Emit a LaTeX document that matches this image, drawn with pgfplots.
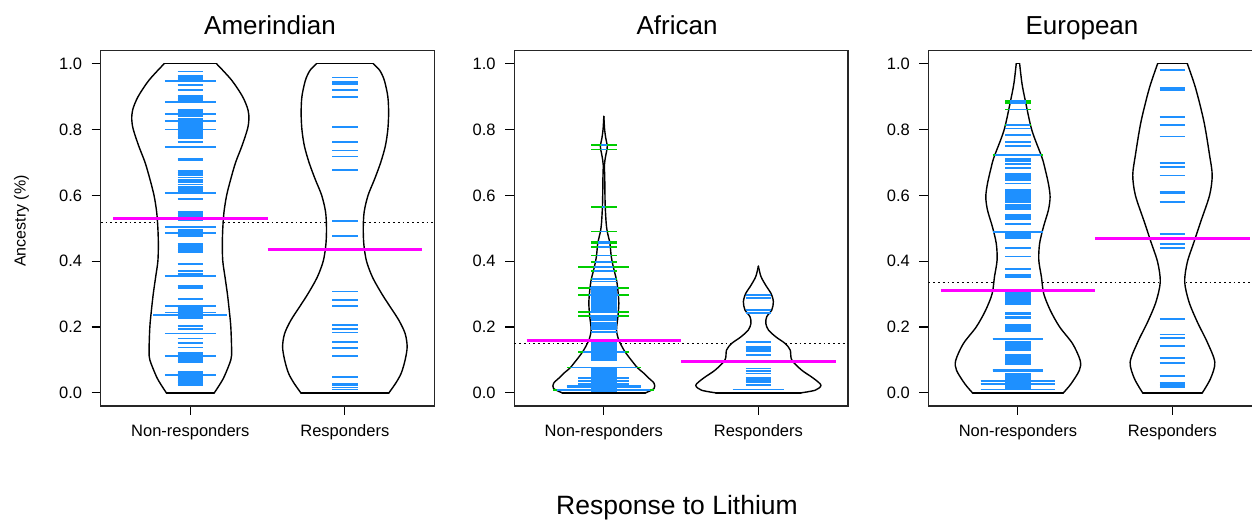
\documentclass[border=0pt]{standalone}
\usepackage{fontspec}
\setmainfont{Liberation Sans}
\usepackage{pgfplots}
\usepackage{pgfplotstable}
\pgfplotsset{compat=1.18}
\definecolor{beanblue}{RGB}{30,144,255}
\definecolor{beangreen}{RGB}{0,205,0}
\definecolor{meanmag}{RGB}{255,0,255}

% ---------- bean outlines: y, half width ----------
\pgfplotstableread{
y w
0 0.155
0.025 0.19
0.05 0.22
0.10 0.262
0.13 0.267
0.20 0.262
0.25 0.252
0.30 0.24
0.35 0.225
0.40 0.21
0.45 0.207
0.50 0.21
0.55 0.218
0.60 0.235
0.65 0.262
0.70 0.293
0.75 0.334
0.80 0.369
0.83 0.379
0.86 0.373
0.90 0.338
0.95 0.267
1.00 0.169
}\oAmNR
\pgfplotstableread{
y w
0 0.285
0.03 0.33
0.06 0.365
0.10 0.39
0.14 0.403
0.18 0.39
0.22 0.35
0.26 0.295
0.30 0.24
0.35 0.18
0.40 0.14
0.45 0.123
0.50 0.119
0.55 0.125
0.60 0.15
0.65 0.193
0.70 0.232
0.75 0.262
0.80 0.278
0.85 0.283
0.90 0.278
0.95 0.255
0.98 0.225
1.00 0.183
}\oAmR
\pgfplotstableread{
y w
0 0.27
0.013 0.325
0.029 0.325
0.045 0.29
0.059 0.26
0.075 0.22
0.089 0.195
0.11 0.16
0.13 0.13
0.16 0.097
0.191 0.082
0.231 0.091
0.272 0.097
0.312 0.091
0.343 0.082
0.383 0.061
0.414 0.048
0.455 0.039
0.49 0.022
0.516 0.015
0.566 0.009
0.608 0.007
0.65 0.006
0.693 0.004
0.72 0.012
0.748 0.022
0.775 0.012
0.80 0.005
0.84 0
}\oAfNR
\pgfplotstableread{
y w
0 0.276
0.008 0.368
0.023 0.405
0.044 0.357
0.069 0.28
0.10 0.216
0.13 0.206
0.15 0.173
0.17 0.113
0.191 0.065
0.211 0.048
0.231 0.054
0.252 0.087
0.277 0.097
0.302 0.082
0.322 0.054
0.353 0.017
0.385 0
}\oAfR
\pgfplotstableread{
y w
0 0.294
0.027 0.343
0.068 0.397
0.098 0.403
0.149 0.354
0.20 0.27
0.25 0.21
0.301 0.167
0.352 0.152
0.403 0.135
0.453 0.14
0.504 0.165
0.555 0.197
0.595 0.208
0.636 0.197
0.687 0.172
0.717 0.154
0.798 0.09
0.889 0.047
0.94 0.026
1.00 0.011
}\oEuNR
\pgfplotstableread{
y w
0 0.193
0.043 0.246
0.093 0.274
0.154 0.225
0.215 0.161
0.276 0.107
0.337 0.079
0.397 0.096
0.458 0.139
0.519 0.182
0.60 0.24
0.661 0.257
0.722 0.24
0.823 0.204
0.925 0.15
1.00 0.096
}\oEuR

% ---------- bean lines: value, half length (L), part inside the bean (B) ----------
\pgfplotstableread{
y L
0.976 0.083
0.962 0.083
0.958 0.083
0.954 0.083
0.950 0.083
0.946 0.083
0.948 0.164
0.935 0.083
0.921 0.083
0.902 0.083
0.898 0.083
0.894 0.083
0.890 0.083
0.886 0.083
0.882 0.083
0.884 0.164
0.861 0.083
0.857 0.083
0.853 0.083
0.849 0.083
0.845 0.083
0.842 0.083
0.847 0.164
0.826 0.164
0.831 0.083
0.827 0.083
0.823 0.083
0.819 0.083
0.815 0.083
0.811 0.083
0.807 0.083
0.803 0.083
0.799 0.083
0.795 0.083
0.791 0.083
0.787 0.083
0.783 0.083
0.779 0.083
0.775 0.083
0.800 0.164
0.761 0.083
0.746 0.164
0.712 0.083
0.708 0.083
0.675 0.083
0.668 0.083
0.661 0.083
0.654 0.083
0.647 0.083
0.640 0.083
0.633 0.083
0.626 0.083
0.619 0.083
0.612 0.083
0.608 0.164
0.588 0.083
0.549 0.083
0.543 0.083
0.537 0.083
0.525 0.083
0.505 0.164
0.495 0.083
0.490 0.083
0.485 0.083
0.480 0.083
0.475 0.083
0.485 0.164
0.451 0.083
0.445 0.083
0.440 0.083
0.435 0.083
0.429 0.083
0.391 0.083
0.371 0.083
0.362 0.083
0.355 0.164
0.325 0.083
0.318 0.083
0.285 0.083
0.264 0.164
0.258 0.083
0.252 0.083
0.246 0.083
0.240 0.083
0.234 0.083
0.228 0.083
0.244 0.164
0.236 0.24
0.204 0.083
0.195 0.083
0.180 0.164
0.165 0.083
0.152 0.083
0.138 0.083
0.121 0.083
0.117 0.083
0.113 0.083
0.109 0.083
0.105 0.083
0.101 0.083
0.097 0.083
0.093 0.083
0.111 0.164
0.065 0.083
0.061 0.083
0.057 0.083
0.053 0.083
0.049 0.083
0.045 0.083
0.041 0.083
0.037 0.083
0.033 0.083
0.029 0.083
0.025 0.083
0.055 0.164
}\lAmNR
\pgfplotstableread{
y L
0.958 0.083
0.944 0.083
0.938 0.083
0.921 0.083
0.899 0.083
0.808 0.083
0.762 0.083
0.736 0.083
0.718 0.083
0.677 0.083
0.523 0.083
0.477 0.083
0.308 0.083
0.281 0.083
0.265 0.083
0.205 0.083
0.195 0.083
0.183 0.083
0.155 0.083
0.136 0.083
0.113 0.083
0.049 0.083
0.027 0.083
0.022 0.083
0.016 0.083
0.010 0.083
}\lAmR
\pgfplotstableread{
y L B
0.752 0.083 0.02
0.739 0.083 0.02
0.564 0.083 0.009
0.490 0.083 0.022
0.459 0.083 0.037
0.455 0.083 0.038
0.444 0.083 0.040
0.417 0.083 0.047
0.397 0.083 0.055
0.383 0.164 0.061
0.371 0.083 0.066
0.347 0.083 0.078
0.338 0.083 0.083
0.321 0.083 0.083
0.316 0.083 0.083
0.312 0.083 0.083
0.307 0.083 0.083
0.303 0.083 0.083
0.298 0.083 0.083
0.294 0.083 0.083
0.289 0.083 0.083
0.285 0.083 0.083
0.280 0.083 0.083
0.276 0.083 0.083
0.271 0.083 0.083
0.267 0.083 0.083
0.262 0.083 0.083
0.258 0.083 0.083
0.253 0.083 0.083
0.249 0.083 0.083
0.244 0.083 0.083
0.318 0.164 0.09
0.296 0.164 0.095
0.245 0.164 0.09
0.234 0.164 0.09
0.228 0.083 0.083
0.222 0.083 0.083
0.211 0.083 0.083
0.205 0.083 0.083
0.199 0.083 0.083
0.193 0.083 0.082
0.186 0.083 0.082
0.160 0.083 0.083
0.155 0.083 0.083
0.150 0.083 0.083
0.145 0.083 0.083
0.140 0.083 0.083
0.135 0.083 0.083
0.130 0.083 0.083
0.125 0.083 0.083
0.120 0.083 0.083
0.115 0.083 0.083
0.110 0.083 0.083
0.105 0.083 0.083
0.100 0.083 0.083
0.125 0.164 0.135
0.077 0.24 0.215
0.074 0.083 0.083
0.069 0.083 0.083
0.065 0.083 0.083
0.060 0.083 0.083
0.056 0.083 0.083
0.051 0.083 0.083
0.047 0.083 0.083
0.042 0.083 0.083
0.038 0.083 0.083
0.033 0.083 0.083
0.029 0.083 0.083
0.045 0.164 0.164
0.035 0.164 0.164
0.028 0.164 0.164
0.022 0.24 0.24
0.018 0.24 0.24
0.025 0.083 0.083
0.020 0.083 0.083
0.015 0.083 0.083
0.010 0.083 0.083
0.005 0.083 0.083
0.008 0.327 0.30
}\lAfNR
\pgfplotstableread{
y L
0.297 0.083
0.287 0.083
0.252 0.083
0.242 0.083
0.155 0.083
0.140 0.083
0.136 0.083
0.132 0.083
0.128 0.083
0.115 0.083
0.096 0.083
0.074 0.083
0.067 0.083
0.059 0.083
0.044 0.083
0.040 0.083
0.036 0.083
0.033 0.083
0.023 0.083
0.010 0.166
}\lAfR
\pgfplotstableread{
y L B
0.886 0.083 0.05
0.881 0.083 0.052
0.861 0.083 0.057
0.813 0.083 0.078
0.803 0.083 0.083
0.783 0.083 0.083
0.763 0.083 0.083
0.750 0.083 0.083
0.722 0.164 0.15
0.710 0.083 0.083
0.704 0.083 0.083
0.694 0.083 0.083
0.682 0.083 0.083
0.666 0.083 0.083
0.661 0.083 0.083
0.656 0.083 0.083
0.651 0.083 0.083
0.646 0.083 0.083
0.636 0.083 0.083
0.616 0.083 0.083
0.611 0.083 0.083
0.606 0.083 0.083
0.601 0.083 0.083
0.596 0.083 0.083
0.590 0.083 0.083
0.585 0.083 0.083
0.580 0.083 0.083
0.570 0.083 0.083
0.564 0.083 0.083
0.558 0.083 0.083
0.540 0.083 0.083
0.533 0.083 0.083
0.527 0.083 0.083
0.514 0.083 0.083
0.489 0.164 0.16
0.484 0.083 0.083
0.479 0.083 0.083
0.474 0.083 0.083
0.469 0.083 0.083
0.440 0.083 0.083
0.414 0.083 0.083
0.375 0.083 0.083
0.357 0.083 0.083
0.352 0.083 0.083
0.311 0.083 0.083
0.306 0.083 0.083
0.301 0.083 0.083
0.296 0.083 0.083
0.291 0.083 0.083
0.286 0.083 0.083
0.281 0.083 0.083
0.276 0.083 0.083
0.271 0.083 0.083
0.243 0.083 0.083
0.238 0.083 0.083
0.232 0.083 0.083
0.227 0.083 0.083
0.207 0.083 0.083
0.200 0.083 0.083
0.194 0.083 0.083
0.187 0.083 0.083
0.164 0.164 0.164
0.154 0.083 0.083
0.149 0.083 0.083
0.144 0.083 0.083
0.139 0.083 0.083
0.134 0.083 0.083
0.129 0.083 0.083
0.116 0.083 0.083
0.111 0.083 0.083
0.106 0.083 0.083
0.101 0.083 0.083
0.097 0.083 0.083
0.092 0.083 0.083
0.088 0.083 0.083
0.071 0.164 0.164
0.067 0.164 0.164
0.058 0.083 0.083
0.054 0.083 0.083
0.050 0.083 0.083
0.046 0.083 0.083
0.042 0.083 0.083
0.038 0.083 0.083
0.034 0.083 0.083
0.030 0.083 0.083
0.026 0.083 0.083
0.022 0.083 0.083
0.018 0.083 0.083
0.014 0.083 0.083
0.035 0.242 0.242
0.027 0.242 0.242
0.010 0.242 0.242
}\lEuNR
\pgfplotstableread{
y L
0.980 0.083
0.925 0.083
0.919 0.083
0.838 0.083
0.813 0.083
0.779 0.083
0.699 0.083
0.685 0.083
0.660 0.083
0.610 0.083
0.606 0.083
0.579 0.083
0.482 0.083
0.452 0.083
0.440 0.083
0.224 0.083
0.177 0.083
0.166 0.083
0.142 0.083
0.105 0.083
0.091 0.083
0.051 0.083
0.030 0.083
0.025 0.083
0.020 0.083
0.016 0.083
}\lEuR

\pgfplotsset{
  beanaxis/.style={
    scale only axis, width=333.8pt, height=355.5pt, anchor=south west,
    xmin=0.42, xmax=2.58, ymin=-0.04, ymax=1.04,
    xtick={1,2}, xticklabels={Non-responders,Responders},
    ytick={0,0.2,0.4,0.6,0.8,1.0}, yticklabels={0.0,0.2,0.4,0.6,0.8,1.0},
    tick pos=left, tick align=outside, major tick length=9pt,
    axis line style={line width=1.3pt, black!85},
    every tick/.style={line width=1.1pt, black},
    ticklabel style={font=\fontsize{16.5}{18}\selectfont},
    yticklabel style={xshift=-6pt},
    xticklabel style={yshift=-6pt},
  },
  outline/.style={black, line width=1.4pt, smooth, tension=0.5, line cap=round, line join=round},
  flatline/.style={black, line width=1.4pt, line cap=round},
  dotline/.style={black, line width=1.3pt, dash pattern=on 1.8pt off 3pt},
  meanline/.style={meanmag, line width=3pt},
  bl/.style={#1, line width=1.8pt, mark=none},
}

\begin{document}
\begin{tikzpicture}
\path[use as bounding box, clip] (0pt,0pt) rectangle (1252pt,519pt);

% ===== Amerindian =====
\begin{axis}[beanaxis, at={(100.7pt,113pt)}]
\addplot[dotline] coordinates {(0.42,0.517) (0.785,0.517)};
\addplot[dotline] coordinates {(1.215,0.517) (1.875,0.517)};
\addplot[dotline] coordinates {(2.125,0.517) (2.58,0.517)};
\addplot[outline] table[x expr=1+\thisrow{w}, y=y] {\oAmNR};
\addplot[outline] table[x expr=1-\thisrow{w}, y=y] {\oAmNR};
\addplot[flatline] coordinates {(0.845,0) (1.155,0)};
\addplot[flatline] coordinates {(0.831,1) (1.169,1)};
\addplot[outline] table[x expr=2+\thisrow{w}, y=y] {\oAmR};
\addplot[outline] table[x expr=2-\thisrow{w}, y=y] {\oAmR};
\addplot[flatline] coordinates {(1.715,0) (2.285,0)};
\addplot[flatline] coordinates {(1.817,1) (2.183,1)};
\addplot[bl=beanblue, quiver={u=2*\thisrow{L}, v=0}] table[x expr=1-\thisrow{L}, y=y] {\lAmNR};
\addplot[bl=beanblue, quiver={u=2*\thisrow{L}, v=0}] table[x expr=2-\thisrow{L}, y=y] {\lAmR};
\addplot[meanline] coordinates {(0.5,0.530) (1.5,0.530)};
\addplot[meanline] coordinates {(1.5,0.436) (2.5,0.436)};
\end{axis}

% ===== African =====
\begin{axis}[beanaxis, at={(514.2pt,113pt)}]
\addplot[dotline] coordinates {(0.42,0.149) (0.895,0.149)};
\addplot[dotline] coordinates {(1.105,0.149) (1.827,0.149)};
\addplot[dotline] coordinates {(2.173,0.149) (2.58,0.149)};
\addplot[outline] table[x expr=1+\thisrow{w}, y=y] {\oAfNR};
\addplot[outline] table[x expr=1-\thisrow{w}, y=y] {\oAfNR};
\addplot[flatline] coordinates {(0.73,0) (1.27,0)};
\addplot[outline] table[x expr=2+\thisrow{w}, y=y] {\oAfR};
\addplot[outline] table[x expr=2-\thisrow{w}, y=y] {\oAfR};
\addplot[flatline] coordinates {(1.724,0) (2.276,0)};
\addplot[bl=beangreen, quiver={u=2*\thisrow{L}, v=0}] table[x expr=1-\thisrow{L}, y=y] {\lAfNR};
\addplot[bl=beanblue, quiver={u=2*\thisrow{B}, v=0}] table[x expr=1-\thisrow{B}, y=y] {\lAfNR};
\addplot[bl=beanblue, quiver={u=2*\thisrow{L}, v=0}] table[x expr=2-\thisrow{L}, y=y] {\lAfR};
\addplot[meanline] coordinates {(0.5,0.159) (1.5,0.159)};
\addplot[meanline] coordinates {(1.5,0.094) (2.5,0.094)};
\end{axis}

% ===== European =====
\begin{axis}[beanaxis, at={(928.3pt,113pt)}]
\addplot[dotline] coordinates {(0.42,0.335) (0.84,0.335)};
\addplot[dotline] coordinates {(1.16,0.335) (1.915,0.335)};
\addplot[dotline] coordinates {(2.085,0.335) (2.58,0.335)};
\addplot[outline] table[x expr=1+\thisrow{w}, y=y] {\oEuNR};
\addplot[outline] table[x expr=1-\thisrow{w}, y=y] {\oEuNR};
\addplot[flatline] coordinates {(0.706,0) (1.294,0)};
\addplot[flatline] coordinates {(0.989,1) (1.011,1)};
\addplot[outline] table[x expr=2+\thisrow{w}, y=y] {\oEuR};
\addplot[outline] table[x expr=2-\thisrow{w}, y=y] {\oEuR};
\addplot[flatline] coordinates {(1.807,0) (2.193,0)};
\addplot[flatline] coordinates {(1.904,1) (2.096,1)};
\addplot[bl=beangreen, quiver={u=2*\thisrow{L}, v=0}] table[x expr=1-\thisrow{L}, y=y] {\lEuNR};
\addplot[bl=beanblue, quiver={u=2*\thisrow{B}, v=0}] table[x expr=1-\thisrow{B}, y=y] {\lEuNR};
\addplot[bl=beanblue, quiver={u=2*\thisrow{L}, v=0}] table[x expr=2-\thisrow{L}, y=y] {\lEuR};
\addplot[meanline] coordinates {(0.5,0.310) (1.5,0.310)};
\addplot[meanline] coordinates {(1.5,0.469) (2.5,0.469)};
\end{axis}

% titles and labels
\node[anchor=base, font=\fontsize{26}{30}\selectfont] at (270pt,484pt) {Amerindian};
\node[anchor=base, font=\fontsize{26}{30}\selectfont] at (677pt,484pt) {African};
\node[anchor=base, font=\fontsize{26}{30}\selectfont] at (1082pt,484pt) {European};
\node[anchor=base, font=\fontsize{26.5}{30}\selectfont] at (677pt,5pt) {Response to Lithium};
\node[rotate=90, font=\fontsize{16}{18}\selectfont] at (21.5pt,298pt) {Ancestry (\%)};
\end{tikzpicture}
\end{document}
